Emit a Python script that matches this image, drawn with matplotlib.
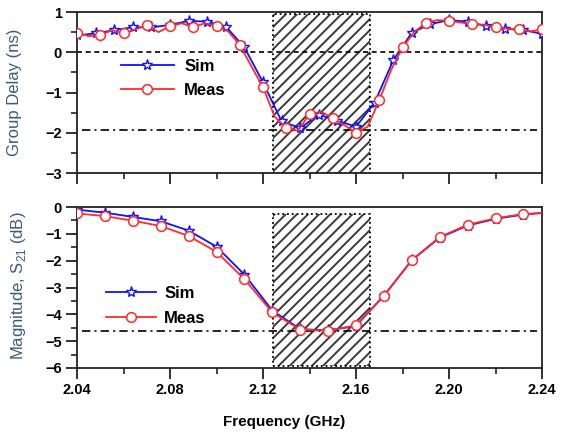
import matplotlib
matplotlib.use("Agg")
import matplotlib.pyplot as plt
from matplotlib.patches import Rectangle
from matplotlib.ticker import MultipleLocator, FormatStrFormatter

plt.rcParams['font.family'] = ['Liberation Sans', 'DejaVu Sans']
plt.rcParams['hatch.linewidth'] = 1.4

# ---------------- data ----------------
# Group delay, measured (0.005 GHz steps, markers every 0.01 GHz)
gd_meas_f = [2.040, 2.045, 2.050, 2.055, 2.060, 2.065, 2.070, 2.075, 2.080, 2.085,
             2.090, 2.095, 2.100, 2.105, 2.110, 2.115, 2.120, 2.125, 2.130, 2.135,
             2.140, 2.145, 2.150, 2.155, 2.160, 2.165, 2.170, 2.175, 2.180, 2.185,
             2.190, 2.195, 2.200, 2.205, 2.210, 2.215, 2.220, 2.225, 2.230, 2.235, 2.240]
gd_meas = [0.49, 0.40, 0.43, 0.55, 0.47, 0.56, 0.68, 0.50, 0.65, 0.72,
           0.63, 0.72, 0.65, 0.52, 0.18, -0.35, -0.87, -1.60, -1.88, -1.95,
           -1.53, -1.48, -1.64, -1.81, -2.00, -1.85, -1.19, -0.45, 0.12, 0.50,
           0.73, 0.80, 0.78, 0.74, 0.70, 0.68, 0.63, 0.58, 0.57, 0.52, 0.57]

# Group delay, simulated (0.008 GHz steps)
gd_sim_f = [2.040, 2.048, 2.056, 2.064, 2.072, 2.080, 2.088, 2.096, 2.104, 2.112,
            2.120, 2.128, 2.136, 2.144, 2.152, 2.160, 2.168, 2.176, 2.184, 2.192,
            2.200, 2.208, 2.216, 2.224, 2.232, 2.240]
gd_sim = [0.42, 0.47, 0.55, 0.62, 0.62, 0.68, 0.78, 0.76, 0.64, 0.12,
          -0.75, -1.72, -1.88, -1.55, -1.70, -1.85, -1.25, -0.20, 0.49, 0.70,
          0.80, 0.76, 0.65, 0.58, 0.55, 0.46]

# Magnitude S21 (0.012 GHz steps, plus end point)
mag_f = [2.040, 2.052, 2.064, 2.076, 2.088, 2.100, 2.112, 2.124, 2.136, 2.148,
         2.160, 2.172, 2.184, 2.196, 2.208, 2.220, 2.232, 2.240]
mag_sim = [-0.10, -0.21, -0.37, -0.53, -0.88, -1.48, -2.52, -3.86, -4.55, -4.60,
           -4.43, -3.30, -1.98, -1.14, -0.69, -0.44, -0.28, -0.22]
mag_meas = [-0.24, -0.34, -0.51, -0.71, -1.08, -1.67, -2.69, -3.93, -4.57, -4.61,
            -4.41, -3.31, -1.98, -1.12, -0.66, -0.42, -0.26, -0.23]

band = (2.1242, 2.166)          # hatched passband
gd_ref = -1.93                   # group-delay reference line
mag_ref = -4.63                  # magnitude reference line

# ---------------- figure ----------------
fig = plt.figure(figsize=(5.71, 4.37), dpi=100)
ax1 = fig.add_axes([0.1349, 0.6041, 0.8144, 0.3684])
ax2 = fig.add_axes([0.1349, 0.1579, 0.8144, 0.3684])

blue = '#1010ff'
red = '#ff2a2a'
spine_c = '#222222'

def style(ax):
    for s in ax.spines.values():
        s.set_linewidth(1.3)
        s.set_color(spine_c)
    ax.set_xlim(2.04, 2.24)
    ax.xaxis.set_major_locator(MultipleLocator(0.04))
    ax.xaxis.set_minor_locator(MultipleLocator(0.02))
    ax.tick_params(which='major', direction='out', length=8, width=1.3,
                   color=spine_c, labelsize=10.5, pad=3)
    ax.tick_params(which='minor', direction='out', length=4.5, width=1.2, color=spine_c)
    ax.tick_params(top=False, right=False, which='both')
    for lab in ax.get_xticklabels() + ax.get_yticklabels():
        lab.set_fontweight('bold')

# ---- top: group delay ----
ax1.set_ylim(-3, 1)
ax1.yaxis.set_major_locator(MultipleLocator(1))
ax1.yaxis.set_minor_locator(MultipleLocator(0.5))
ax1.add_patch(Rectangle((band[0], -3), band[1] - band[0], 0.95 - (-3),
                        fill=False, hatch='///', edgecolor='#3a3a3a', linewidth=0, zorder=1))
ax1.add_patch(Rectangle((band[0], -3), band[1] - band[0], 0.95 - (-3),
                        fill=False, edgecolor='black', linewidth=1.3, linestyle=':', zorder=2))
ax1.axhline(0, color='black', linewidth=1.2, dashes=(3, 2.2), zorder=2)
ax1.axhline(gd_ref, xmin=0.01, xmax=0.99, color='black', linewidth=1.2,
            dashes=(5, 2.5, 1.2, 2.5), zorder=2)
ax1.plot(gd_sim_f, gd_sim, color=blue, linewidth=1.3, marker='*', markersize=8,
         markerfacecolor='white', markeredgecolor=blue, markeredgewidth=1.0,
         label='Sim', zorder=3)
ax1.plot(gd_meas_f, gd_meas, color=red, linewidth=1.3, marker='o', markersize=7,
         markevery=2, markerfacecolor='white', markeredgecolor=red, markeredgewidth=1.1,
         label='Meas', zorder=4)
style(ax1)
ax1.tick_params(labelbottom=False)
ax1.set_ylabel('Group Delay (ns)', fontsize=12, color='#3b5a7c')
ax1.yaxis.set_label_coords(-0.118, 0.5)
ax1.legend(loc='upper left', bbox_to_anchor=(0.094, 0.708), frameon=False,
           prop={'weight': 'bold', 'size': 12}, handlelength=3.2, handletextpad=0.6,
           borderpad=0, borderaxespad=0, labelspacing=0.52)

# ---- bottom: magnitude ----
ax2.set_ylim(-6, 0)
ax2.yaxis.set_major_locator(MultipleLocator(1))
ax2.yaxis.set_minor_locator(MultipleLocator(0.5))
ax2.add_patch(Rectangle((band[0], -5.93), band[1] - band[0], 5.93 - 0.26,
                        fill=False, hatch='///', edgecolor='#3a3a3a', linewidth=0, zorder=1))
ax2.add_patch(Rectangle((band[0], -5.93), band[1] - band[0], 5.93 - 0.26,
                        fill=False, edgecolor='black', linewidth=1.3, linestyle=':', zorder=2))
ax2.axhline(mag_ref, xmin=0.01, xmax=0.99, color='black', linewidth=1.2,
            dashes=(5, 2.5, 1.2, 2.5), zorder=2)
ax2.plot(mag_f, mag_sim, color=blue, linewidth=1.3, marker='*', markersize=8,
         markevery=slice(0, -1), markerfacecolor='white', markeredgecolor=blue,
         markeredgewidth=1.0, label='Sim', zorder=3)
ax2.plot(mag_f, mag_meas, color=red, linewidth=1.3, marker='o', markersize=7,
         markevery=slice(0, -1), markerfacecolor='white', markeredgecolor=red,
         markeredgewidth=1.1, label='Meas', zorder=4)
style(ax2)
ax2.xaxis.set_major_formatter(FormatStrFormatter('%.2f'))
for lab in ax2.get_xticklabels():
    lab.set_fontweight('bold')
ax2.set_ylabel(r'Magnitude, S$_\mathregular{21}$ (dB)', fontsize=12, color='#3b5a7c')
ax2.yaxis.set_label_coords(-0.105, 0.51)
ax2.legend(loc='upper left', bbox_to_anchor=(0.062, 0.508), frameon=False,
           prop={'weight': 'bold', 'size': 12}, handlelength=3.0, handletextpad=0.5,
           borderpad=0, borderaxespad=0, labelspacing=0.6)

fig.text(284 / 571, 1 - 421.7 / 437, 'Frequency (GHz)', fontsize=11, fontweight='bold',
         ha='center', va='center')

fig.savefig('out.png', dpi=100)
